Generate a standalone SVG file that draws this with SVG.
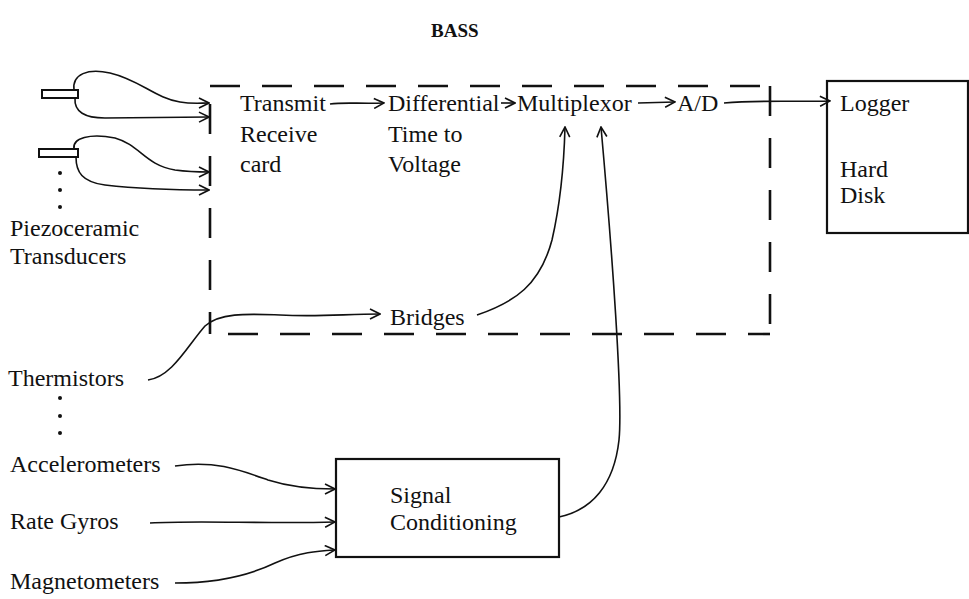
<svg xmlns="http://www.w3.org/2000/svg" width="969" height="599" viewBox="0 0 969 599">
<style>
text{font-family:"Liberation Serif","Times New Roman",serif;font-size:24px;fill:#111}
.t{font-weight:bold;font-size:19px}
.ln{fill:none;stroke:#111;stroke-width:1.6}
.box{fill:none;stroke:#111;stroke-width:2.2}
.dash{fill:none;stroke:#111;stroke-width:2.6;stroke-dasharray:30 22}
</style>
<defs>
<marker id="a" viewBox="0 0 12 12" refX="11" refY="6" markerWidth="12" markerHeight="12" markerUnits="userSpaceOnUse" orient="auto">
<path d="M1,1 L11,6 L1,11" fill="none" stroke="#111" stroke-width="1.6"/>
</marker>
</defs>
<text class="t" x="431" y="37">BASS</text>

<g id="daq">
<path class="dash" d="M210,86 H770"/>
<path class="dash" d="M770,86 V334"/>
<path class="dash" d="M770,334 H210" stroke-dashoffset="8"/>
<path class="dash" d="M210,334 V86" stroke-dashoffset="8"/>
</g>
<g id="tr1"><rect x="42" y="90" width="36" height="8" fill="#fff" stroke="#111" stroke-width="2"/></g>
<g id="tr2"><rect x="39" y="149" width="39" height="8" fill="#fff" stroke="#111" stroke-width="2"/></g>
<g id="dots">
<circle cx="60" cy="173" r="2" fill="#111"/><circle cx="60" cy="190" r="2" fill="#111"/><circle cx="60" cy="207" r="2" fill="#111"/>
<circle cx="60" cy="398" r="2" fill="#111"/><circle cx="60" cy="416" r="2" fill="#111"/><circle cx="60" cy="433" r="2" fill="#111"/>
</g>
<g id="piezo"><text x="10" y="236">Piezoceramic</text><text x="10" y="264">Transducers</text></g>
<g id="trc"><text x="240" y="111">Transmit</text><text x="240" y="142">Receive</text><text x="240" y="172">card</text></g>
<g id="dtv"><text x="388" y="111">Differential</text><text x="388" y="142">Time to</text><text x="388" y="172">Voltage</text></g>
<g id="mux"><text x="517" y="111">Multiplexor</text></g>
<g id="ad"><text x="677" y="111">A/D</text></g>
<g id="logger">
<rect class="box" x="827" y="81" width="141" height="152"/>
<text x="840" y="111">Logger</text><text x="840" y="177">Hard</text><text x="840" y="203">Disk</text>
</g>
<g id="bridges"><text x="390" y="325">Bridges</text></g>
<g id="therm"><text x="8" y="386">Thermistors</text></g>
<g id="acc"><text x="10" y="472">Accelerometers</text></g>
<g id="gyro"><text x="10" y="529">Rate Gyros</text></g>
<g id="mag"><text x="10" y="589">Magnetometers</text></g>
<g id="sc">
<rect class="box" x="336" y="459" width="223" height="98"/>
<text x="390" y="503">Signal</text><text x="390" y="530">Conditioning</text>
</g>

<g id="connectors">
<path class="ln" marker-end="url(#a)" d="M74,90 C72,74 88,68 110,73 C140,80 155,98 180,102 C192,104 200,103 209,103"/>
<path class="ln" marker-end="url(#a)" d="M75,98 C74,112 85,118 105,118 L209,117"/>
<path class="ln" marker-end="url(#a)" d="M74,149 C72,138 90,133 115,138 C140,145 145,165 175,170 C190,172 200,172 209,172"/>
<path class="ln" marker-end="url(#a)" d="M76,157 C76,172 82,182 105,185 C140,189 180,190 209,190"/>
<path class="ln" marker-end="url(#a)" d="M330,104 C345,102 360,104 384,103"/>
<path class="ln" marker-end="url(#a)" d="M501,103 L515,103"/>
<path class="ln" marker-end="url(#a)" d="M638,103 L675,102"/>
<path class="ln" marker-end="url(#a)" d="M724,103 C760,100 790,102 830,101"/>
<path class="ln" marker-end="url(#a)" d="M148,380 C172,377 188,345 205,326 C220,312 250,314 280,315 C320,317 345,314 380,314"/>
<path class="ln" marker-end="url(#a)" d="M477,315 C515,302 540,285 552,240 C560,205 564,165 565,127"/>
<path class="ln" marker-end="url(#a)" d="M559,517 C592,510 614,485 619,440 C623,400 612,250 601,127"/>
<path class="ln" marker-end="url(#a)" d="M175,466 C215,460 240,470 268,480 C290,487 310,489 335,489"/>
<path class="ln" marker-end="url(#a)" d="M150,523 C200,520 260,524 335,522"/>
<path class="ln" marker-end="url(#a)" d="M175,583 C220,583 250,575 275,563 C300,552 318,551 335,550"/>
</g>
</svg>
